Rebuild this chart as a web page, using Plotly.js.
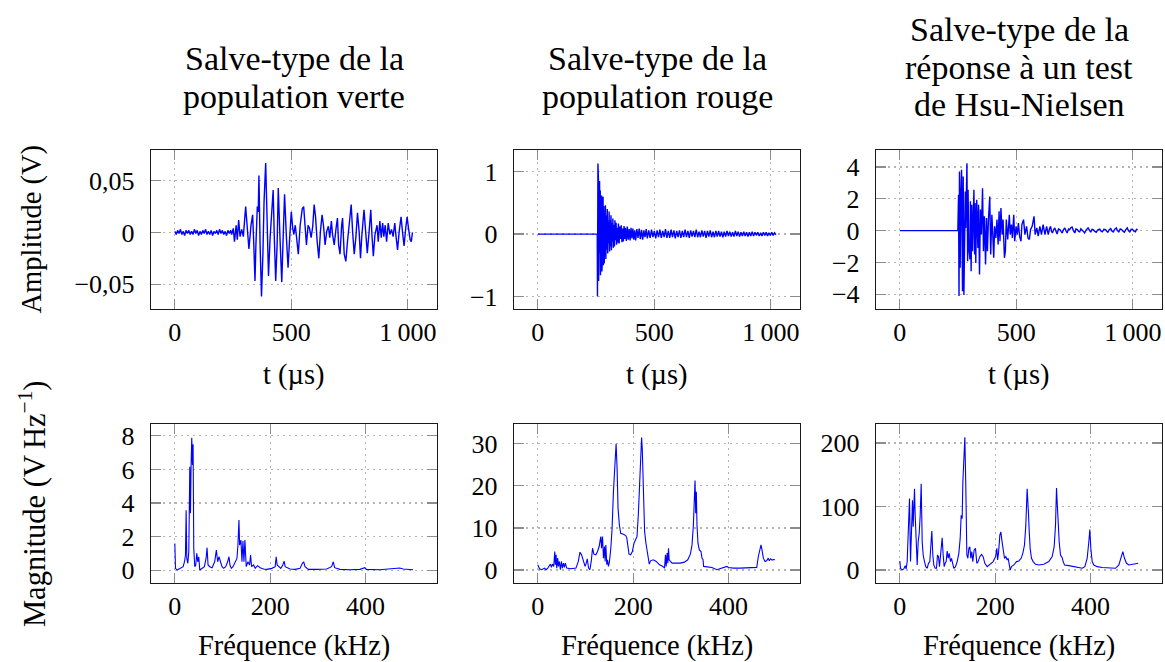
<!DOCTYPE html>
<html>
<head>
<meta charset="utf-8">
<script src="https://cdn.plot.ly/plotly-3.0.1.min.js"></script>
<style>html,body{margin:0;padding:0;background:#fff;}#chart{width:1165px;height:662px;}</style>
</head>
<body>
<div id="chart"></div>
<script>
// ---------------- DATA ----------------
// Column titles
const columnTitles = [
  ["Salve-type de la", "population verte"],
  ["Salve-type de la", "population rouge"],
  ["Salve-type de la", "réponse à un test", "de Hsu-Nielsen"]
];
const timeTickVals = [0, 500, 1000];
const timeTickText = ["0", "500", "1\u2009000"];
const freqTickVals = [0, 200, 400];
const freqTickText = ["0", "200", "400"];
const ampTicksGreen = [-0.05, 0, 0.05];
const ampTextGreen = ["\u22120,05", "0", "0,05"];
const ampTicksRed = [-1, 0, 1];
const ampTextRed = ["\u22121", "0", "1"];
const ampTicksHN = [-4, -2, 0, 2, 4];
const ampTextHN = ["\u22124", "\u22122", "0", "2", "4"];
const magTicksGreen = [0, 2, 4, 6, 8];
const magTicksRed = [0, 10, 20, 30];
const magTicksHN = [0, 100, 200];

// Burst, green population: [t (µs), amplitude (V)]
const burstGreen = [[0,0.001],[6,-0.002],[12,0.002],[18,-0.001],[24,0.003],[30,-0.002],[36,0.001],[42,-0.003],[48,0.002],[54,-0.001],
[60,0.002],[66,-0.002],[72,0.001],[78,-0.002],[84,0.003],[90,-0.001],[96,0.002],[102,-0.003],[108,0.001],[114,-0.002],
[120,0.002],[126,-0.001],[132,0.003],[138,-0.002],[144,0.001],[150,-0.002],[156,0.002],[162,-0.003],[168,0.001],[174,-0.001],
[180,0.002],[186,-0.002],[192,0.003],[198,-0.001],[204,0.002],[210,-0.002],[216,0.001],[222,-0.003],[228,0.002],[234,-0.001],[240,0.002],
[244,-0.002],[251,0.004],[256,-0.009],[263,0.007],[268,-0.007],[274,0.012],[280,-0.004],[287,0.003],[294,-0.004],[304,0.025],
[311,0.001],[318,-0.016],[327,0.007],[334,0.017],[339,-0.012],[344,-0.047],[348,-0.012],[354,0.025],[358,0.02],[361,0.055],
[366,-0.012],[372,-0.062],[378,-0.021],[383,0.03],[390,0.067],[396,0.004],[402,-0.042],[409,-0.005],[415,0.017],[422,0.041],
[427,-0.005],[433,-0.047],[439,-0.012],[444,0.043],[452,-0.009],[459,-0.048],[464,-0.012],[471,0.037],[479,-0.005],[486,-0.034],
[493,-0.005],[500,0.02],[506,0.004],[511,-0.002],[517,0.007],[523,-0.009],[530,-0.021],[538,0.007],[547,0.023],[553,0.025],
[560,0.001],[565,-0.012],[572,0.007],[578,0.004],[585,-0.005],[592,0.006],[598,0.027],[604,0.015],[611,-0.009],[618,-0.025],
[625,0.001],[632,0.017],[638,0.007],[645,-0.012],[652,0.001],[659,0.006],[665,-0.005],[672,0.011],[677,-0.002],[684,-0.012],
[692,0.004],[698,0.014],[703,-0.012],[709,-0.021],[716,0.007],[720,0.014],[727,-0.021],[734,-0.028],[741,-0.009],[748,0.007],
[757,0.027],[763,0.001],[770,-0.021],[777,-0.005],[784,0.019],[791,0.001],[797,-0.025],[802,-0.005],[812,0.022],[819,0.001],
[826,-0.02],[834,0.001],[841,0.022],[846,-0.002],[852,-0.023],[859,-0.002],[868,0.007],[873,-0.009],[880,0.011],[886,-0.005],
[892,0.009],[897,-0.004],[903,0.007],[909,-0.009],[916,0.009],[923,-0.002],[930,0.003],[937,-0.004],[944,0.009],[950,-0.005],
[956,-0.017],[963,0.001],[971,0.015],[977,0.001],[984,-0.013],[991,0.004],[997,0.015],[1003,0.004],[1010,-0.007],[1015,-0.009],[1020,0]];

// Burst, red population
const burstRed = [[0,0],[255,0],[256,-1.0],[257,0.3],[258,1.13],[259,-0.2],[260,0.9],[261,-0.75],[263,0.5],[264,-0.55],[265,0.85],
[267,-0.3],[268,0.7],[269,-0.66],[271,0.4],[272,-0.45],[274,0.62],[275,-0.6],[277,0.35],[278,-0.35],[280,0.6],[281,-0.5],
[283,0.45],[285,-0.47],[287,0.3],[288,-0.2],[290,0.46],[292,-0.4],[294,0.3],[296,-0.25],[298,0.4],[300,-0.31],[302,0.2],
[304,-0.15],[306,0.36],[308,-0.28],[310,0.22],[312,-0.2],[314,0.3],[316,-0.26],[318,0.18],[320,-0.12],[322,0.25],[324,-0.22],
[327,0.15],[329,-0.2],[331,0.22],[333,-0.1],[336,0.18],[338,-0.17],[341,0.1],[343,-0.14],[346,0.17],[349,-0.15],[352,0.12],
[355,-0.08],[358,0.14],[361,-0.13],[364,0.09],[367,-0.12],[370,0.13],[373,-0.08],[376,0.1],[380,-0.11],[384,0.12],[388,-0.09],
[392,0.08],[396,-0.1],[400,0.1],[404,-0.07],[408,0.09],[412,-0.09],[416,0.06],[420,-0.1],[425,0.08],[430,-0.06],[435,0.09],
[440,-0.08],[445,0.07],[450,-0.09],[455,0.06],[460,-0.05],[465,0.08],[470,-0.07],[476,0.06],[482,-0.06],[488,0.07],[494,-0.05],
[500,0.05],[506,-0.07],[512,0.06],[518,-0.05],[524,0.07],[530,-0.06],[536,0.05],[542,-0.05],[548,0.08],[554,-0.06],[560,0.05],
[566,-0.06],[572,0.07],[578,-0.05],[584,0.06],[590,-0.07],[596,0.05],[602,-0.05],[608,0.06],[614,-0.06],[620,0.05],[626,-0.05],
[632,0.07],[638,-0.05],[644,0.05],[650,-0.06],[656,0.06],[662,-0.04],[668,0.05],[674,-0.05],[680,0.07],[686,-0.05],[692,0.04],
[698,-0.05],[704,0.06],[710,-0.04],[716,0.05],[722,-0.06],[728,0.05],[734,-0.04],[740,0.06],[746,-0.05],[752,0.04],[758,-0.05],
[764,0.05],[770,-0.04],[776,0.05],[782,-0.04],[788,0.04],[794,-0.05],[800,0.04],[806,-0.04],[812,0.05],[818,-0.03],[824,0.04],
[830,-0.04],[836,0.03],[842,-0.04],[848,0.05],[854,-0.03],[860,0.04],[866,-0.04],[872,0.03],[878,-0.03],[884,0.04],[890,-0.03],
[896,0.03],[902,-0.04],[908,0.03],[914,-0.03],[920,0.04],[926,-0.03],[932,0.03],[938,-0.02],[944,0.03],[950,-0.03],[956,0.02],
[962,-0.03],[968,0.03],[974,-0.02],[980,0.03],[986,-0.03],[992,0.02],[998,-0.02],[1004,0.03],[1010,-0.02],[1016,0.02],[1022,-0.01]];

// Burst, Hsu-Nielsen test
const burstHN = [[0,0],[249,0],[252,2.25],[254,-4.11],[256,3.72],[259,-2.34],[262,2.25],[265,3.82],[269,-3.82],[272,3.4],[275,-4.05],
[281,2.46],[283,0.17],[288,4.24],[291,-1.92],[293,2.57],[296,-1.09],[301,-1.82],[303,1.84],[306,-2.55],[309,1.63],[312,-1.29],
[318,2.57],[321,-1.5],[323,1.73],[326,-2.03],[330,1.94],[335,-1.09],[338,1.63],[342,-2.76],[346,1.32],[350,-0.25],[355,2.67],
[359,-1.29],[363,0.9],[368,-2.13],[372,0.79],[376,-1.29],[380,0.58],[386,2.15],[390,-1.5],[395,1.0],[399,-0.25],[403,-1.71],
[407,0.27],[412,-0.46],[417,0.69],[422,-0.88],[426,1.21],[430,-0.67],[434,1.42],[439,-0.25],[443,0.69],[449,-1.71],[453,-1.29],
[457,0.69],[463,-0.56],[470,1.0],[474,-0.25],[479,0.38],[483,-0.46],[489,1.0],[493,-0.67],[499,0.27],[504,-0.25],[509,0.48],
[514,-0.35],[520,-0.67],[524,0.38],[531,0.69],[537,-0.25],[544,0.27],[550,-0.46],[556,-0.56],[561,0.06],[568,0.27],[576,0.9],
[581,-0.25],[588,0.17],[594,-0.35],[601,0.27],[608,-0.25],[615,0.38],[623,-0.25],[630,0.27],[637,-0.25],[642,0.1],[647,0.27],
[651,-0.05],[655,-0.15],[660,0.05],[665,0.17],[670,-0.02],[675,-0.21],[681,0.1],[687,0.06],[692,-0.05],[697,-0.15],[702,0.05],
[708,0.17],[713,0.0],[718,-0.15],[724,0.1],[729,0.06],[734,0.18],[739,0.23],[745,0.0],[751,-0.15],[756,0.1],[762,0.06],
[767,-0.05],[772,-0.08],[777,0.12],[782,0.06],[788,-0.05],[793,-0.15],[800,0.05],[808,0.17],[814,0.0],[819,-0.1],[825,0.08],
[830,0.06],[837,-0.05],[843,-0.1],[850,0.05],[858,0.1],[863,-0.02],[869,-0.08],[876,0.08],[883,0.06],[888,-0.04],[893,-0.1],
[899,0.06],[905,0.13],[910,-0.02],[916,-0.08],[922,0.08],[929,0.17],[934,0.0],[940,-0.08],[946,0.1],[952,0.06],[958,-0.04],
[964,-0.1],[970,0.06],[976,0.17],[981,0.0],[987,-0.08],[993,0.08],[1000,0.06],[1005,-0.04],[1011,-0.08],[1016,0.08],[1021,0.06]];

// Spectra: [f (kHz), magnitude]
const spectrumGreen = [[0,1.6],[1.4,0.12],[4.9,0.02],[11.8,0.12],[17.4,0.22],[20.2,0.5],[22.3,0.9],[23.7,3.58],[25.1,0.71],
[27.2,0.42],[29.3,1.1],[31.4,6.16],[32.8,3.39],[34.1,6.26],[35.5,7.88],[36.9,6.26],[38.3,7.49],[39.7,1.31],[41.8,0.22],[43.9,0.32],
[46,1.01],[48.1,0.51],[50.2,0.81],[52.3,0.02],[57.1,0.12],[62,0.22],[65.5,0.71],[67.6,1.35],[69.7,0.32],[73.2,0.22],[78.1,0.16],
[83.6,0.51],[87.1,1.21],[89.9,0.51],[92.7,0.81],[95.5,0.51],[99,0.22],[102.4,0.12],[106.6,0.22],[110.8,0.51],[113.6,0.81],
[115.7,0.32],[118.5,0.12],[122,0.22],[126.1,0.42],[130.3,0.71],[132.4,1.5],[134.5,2.99],[135.9,1.5],[138.7,1.8],[140.8,0.51],
[142.9,1.74],[145,0.51],[147,1.8],[149.8,0.22],[153.3,0.51],[156.8,0.32],[158.9,0.91],[161,0.22],[165.2,0.32],[168.6,0.12],
[173.5,0.28],[179.1,0.16],[186.1,0.08],[193,0.06],[203.5,0.12],[210.5,0.22],[212.6,0.81],[214.6,0.32],[218.1,0.22],[222.3,0.12],
[226.5,0.32],[229.3,0.55],[231.4,0.22],[234.9,0.16],[241.8,0.08],[252.3,0.06],[262.7,0.12],[267.6,0.42],[270.4,0.51],[273.2,0.22],
[280.2,0.06],[297.6,0.06],[318.5,0.08],[328.9,0.22],[332.4,0.51],[335.2,0.16],[346.4,0.06],[367.3,0.04],[388.2,0.06],[398.6,0.16],
[402.1,0.06],[430,0.04],[457.9,0.08],[471.8,0.14],[478.8,0.08],[499.7,0.04]];

const spectrumRed = [[0,1.26],[3.5,0.31],[8.3,0.08],[13.9,0.47],[17.4,0.08],[20.9,0.47],[24.3,1.1],[26.4,1.42],[28.5,0.63],
[30.6,1.42],[33.4,0.87],[35.5,4.41],[36.9,1.26],[38.3,3.62],[39.7,0.47],[41.7,2.83],[43.1,0.87],[45.2,2.05],[47.3,0.08],
[49.4,2.05],[51.5,0.47],[53.6,1.65],[55.7,0.63],[57.7,1.65],[60.5,0.47],[69.6,0.31],[80,0.47],[84.9,2.05],[88.4,4.25],
[91.8,3.62],[96,2.05],[99.1,0.87],[101.6,1.65],[103.7,2.68],[106.4,0.47],[109.2,0.08],[112,2.05],[114.8,5.2],[117.6,3.78],
[121.7,3.62],[125.2,4.41],[128.7,5.59],[130.8,7.17],[132.2,7.95],[133.6,5.2],[135.7,7.95],[137.7,2.83],[139.8,5.59],[141.2,2.05],
[142.6,5.98],[144.7,1.26],[146.1,2.44],[148.2,0.87],[150.3,2.05],[153.1,5.2],[155.8,9.92],[158.6,18.58],[161.4,25.7],[164.2,30.0],
[166.3,24.1],[168.3,14.6],[171.1,10.7],[173.9,8.74],[179.5,8.5],[184.4,8.19],[186.5,7.72],[188.5,5.59],[191.3,3.78],[194.8,3.62],
[198.3,4.41],[201.7,6.38],[205.2,7.56],[208,7.95],[210.8,13.07],[213.6,22.5],[216.4,28.03],[217.7,31.5],[219.1,28.8],[221.2,17.8],
[224,9.13],[226.8,6.38],[229.6,4.57],[231.7,3.62],[233.8,1.42],[236.5,2.2],[242.1,2.44],[248.4,2.05],[255.3,1.26],[262.3,0.87],
[265.8,0.47],[267.8,3.62],[269.2,0.87],[271.3,4.02],[272.7,1.65],[274.1,5.2],[275.5,2.44],[278.3,2.05],[281.7,1.65],[288.7,1.65],
[299.2,1.65],[307.5,1.89],[314.5,2.44],[320,3.78],[323.5,5.98],[326.3,10.7],[328.4,17.0],[329.8,21.3],[331.2,13.5],[332.5,18.6],
[333.9,10.7],[336,6.38],[338.8,4.8],[342.3,4.41],[344.4,2.83],[346.5,2.44],[347.9,0.87],[354.8,0.79],[365.2,0.63],[375.7,0.08],
[386.1,0.47],[396.5,0.87],[400,0.63],[410.5,0.47],[424.4,0.47],[445.3,0.47],[459.2,0.63],[462.6,3.23],[466.1,5.59],[468.2,5.98],
[470.3,4.8],[473.1,2.83],[476.6,2.05],[480,2.2],[483.5,2.83],[485.5,2.2],[488.4,2.68],[491.2,2.36],[494,2.52],[497.4,2.44]];

const spectrumHN = [[0,14.1],[1.4,2.6],[4.9,0],[8.4,1.6],[11.2,6.8],[13.3,1.6],[15.4,13.1],[18.2,70.5],[20.3,112.3],[22.4,13.1],
[24.5,86.2],[26.6,109.7],[28,67.9],[29.4,91.4],[30.8,127.9],[32.2,86.2],[34.3,33.9],[36.4,7.8],[38.5,44.4],[40.6,57.4],[42.7,86.2],
[44.8,135.8],[46.9,44.4],[49,23.5],[51.7,13.1],[54.5,5.2],[57.3,2.6],[60.1,10.4],[62.9,13.1],[65,33.9],[67.1,61.1],[69.2,23.5],
[71.3,7.8],[74.1,2.6],[76.9,2.6],[79,23.5],[81.1,20.9],[83.2,5.2],[86,28.7],[88.8,50.7],[90.9,23.5],[93,5.2],[95.1,10.4],
[97.2,13.1],[99.3,29.8],[101.4,18.3],[103.5,26.1],[106.3,13.1],[108.4,18.3],[110.5,13.1],[113.3,2.6],[116.8,5.2],[120.3,13.1],
[123.8,26.1],[126.6,49.6],[128.7,86.2],[130.8,80.9],[132.2,138.4],[134.3,180.2],[136.4,208.9],[138.5,127.9],[140.6,23.5],
[142.7,18.3],[144.8,33.9],[146.8,36.6],[148.9,18.3],[151,28.7],[153.1,13.1],[155.9,31.3],[158.7,33.9],[161.5,10.4],[164.3,13.1],
[167.8,20.9],[171.3,24.5],[174.8,20.9],[178.3,10.4],[183.2,5.2],[190.2,10.4],[195.8,13.1],[200.8,20.9],[203.6,33.9],[205,15.7],
[207,26.1],[209.8,54.8],[211.9,60],[214,47],[216.8,31.3],[219.6,18.3],[222.4,20.9],[225.2,15.7],[227.3,18.3],[229.4,10.4],
[231.5,0],[234.3,5.2],[239.2,7.8],[244.8,13.1],[249.7,14.1],[254.5,18.3],[258,26.1],[261.5,39.2],[264.3,70.5],[267.1,127.9],
[268.5,91.4],[269.9,88.8],[271.3,62.7],[273.4,33.9],[276.2,18.3],[279.7,13.1],[284.6,8.9],[291.6,7.8],[302.1,8.9],[312.6,13.1],
[319.6,20.9],[323.8,36.6],[326.6,70.5],[328.7,129],[330.1,107],[332.2,70.5],[334.3,44.4],[337.1,23.5],[340.6,19.3],[342.7,13.1],
[345.5,7.8],[354.6,6.8],[365.1,5.2],[375.5,3.7],[382.5,2.6],[388.1,5.2],[393,18.3],[396.5,44.4],[398.6,63.7],[400.7,33.9],
[403.5,13.1],[407,7.8],[414,5.2],[424.5,3.7],[438.5,2.6],[452.5,2.6],[459.5,7.8],[464.3,18.3],[467.8,28.7],[471.3,18.3],
[475.5,10.4],[480.4,7.8],[487.4,8.4],[494.4,9.4],[500,10.4]];

// ---------------- LAYOUT HELPERS ----------------
const W = 1165, H = 662;
const FONT = '"Liberation Serif", "Times New Roman", serif';
const colsPx = [[151, 437], [514, 800], [876, 1162]];
const rowsPx = [[150, 309], [424, 583]];
const px = x => x / W;
const py = y => 1 - y / H;

const panels = [
  {data: burstGreen, row: 0, col: 0, yr: [-0.0740, 0.0797], tv: ampTicksGreen, tt: ampTextGreen},
  {data: burstRed, row: 0, col: 1, yr: [-1.2, 1.347], tv: ampTicksRed, tt: ampTextRed},
  {data: burstHN, row: 0, col: 2, yr: [-4.93, 5.07], tv: ampTicksHN, tt: ampTextHN},
  {data: spectrumGreen, row: 1, col: 0, yr: [-0.75, 8.70], tv: magTicksGreen, tt: magTicksGreen.map(String)},
  {data: spectrumRed, row: 1, col: 1, yr: [-3.07, 34.7], tv: magTicksRed, tt: magTicksRed.map(String)},
  {data: spectrumHN, row: 1, col: 2, yr: [-20.6, 229.8], tv: magTicksHN, tt: magTicksHN.map(String)}
];

const traces = [];
const layout = {
  width: W, height: H,
  margin: {l: 0, r: 0, t: 0, b: 0},
  paper_bgcolor: '#ffffff', plot_bgcolor: '#ffffff',
  showlegend: false,
  font: {family: FONT, size: 26, color: '#000'},
  annotations: []
};

panels.forEach((p, i) => {
  const n = i + 1;
  const xa = 'xaxis' + (n === 1 ? '' : n), ya = 'yaxis' + (n === 1 ? '' : n);
  traces.push({
    x: p.data.map(d => d[0]), y: p.data.map(d => d[1]),
    xaxis: 'x' + (n === 1 ? '' : n), yaxis: 'y' + (n === 1 ? '' : n),
    type: 'scatter', mode: 'lines',
    line: {color: '#0000ff', width: p.row === 0 ? 1.4 : 1.1},
    hoverinfo: 'skip'
  });
  const c = colsPx[p.col], r = rowsPx[p.row];
  const common = {
    showline: true, linecolor: '#1a1a1a', linewidth: 1.2, mirror: 'allticks',
    ticks: 'inside', ticklen: 10, tickwidth: 1.2, tickcolor: '#8c8c8c',
    showgrid: true, gridcolor: '#b4b4b4', griddash: '1.5px,4.5px', gridwidth: 1.2,
    zeroline: false, fixedrange: true,
    tickfont: {family: FONT, size: 26, color: '#000'}
  };
  layout[xa] = Object.assign({}, common, {
    domain: [px(c[0]), px(c[1])],
    anchor: 'y' + (n === 1 ? '' : n),
    range: p.row === 0 ? [-102.3, 1125.3] : [-50, 550],
    tickmode: 'array',
    tickvals: p.row === 0 ? timeTickVals : freqTickVals,
    ticktext: p.row === 0 ? timeTickText : freqTickText,
    ticklabelstandoff: 0
  });
  layout[ya] = Object.assign({}, common, {
    domain: [py(r[1]), py(r[0])],
    anchor: 'x' + (n === 1 ? '' : n),
    range: p.yr,
    tickmode: 'array', tickvals: p.tv, ticktext: p.tt,
    ticklabelstandoff: 10
  });
});

// Column titles (one annotation per line to control line spacing)
const titleBaselines = [[70, 107], [70, 107], [41, 78, 115]];
columnTitles.forEach((lines, ci) => {
  const cx = (colsPx[ci][0] + colsPx[ci][1]) / 2;
  lines.forEach((ln, li) => {
    layout.annotations.push({
      xref: 'paper', yref: 'paper', x: px(cx), y: py(titleBaselines[ci][li] - 11),
      xanchor: 'center', yanchor: 'middle', showarrow: false,
      text: ln, font: {family: FONT, size: 34, color: '#000'}
    });
  });
});

// Axis labels
colsPx.forEach(c => {
  const cx = (c[0] + c[1]) / 2;
  layout.annotations.push({xref: 'paper', yref: 'paper', x: px(cx), y: py(375),
    xanchor: 'center', yanchor: 'middle', showarrow: false,
    text: 't (µs)', font: {family: FONT, size: 28.5, color: '#000'}});
  layout.annotations.push({xref: 'paper', yref: 'paper', x: px(cx), y: py(646),
    xanchor: 'center', yanchor: 'middle', showarrow: false,
    text: 'Fréquence (kHz)', font: {family: FONT, size: 28.5, color: '#000'}});
});
layout.annotations.push({xref: 'paper', yref: 'paper', x: px(31), y: py((rowsPx[0][0] + rowsPx[0][1]) / 2),
  xanchor: 'center', yanchor: 'middle', showarrow: false, textangle: -90,
  text: 'Amplitude (V)', font: {family: FONT, size: 28.5, color: '#000'}});
layout.annotations.push({xref: 'paper', yref: 'paper', x: px(32), y: py(504),
  xanchor: 'center', yanchor: 'middle', showarrow: false, textangle: -90,
  text: 'Magnitude (V\u2009Hz<sup>−1</sup>)', font: {family: FONT, size: 30.5, color: '#000'}});

Plotly.newPlot('chart', traces, layout, {staticPlot: true, displayModeBar: false});
</script>
</body>
</html>
